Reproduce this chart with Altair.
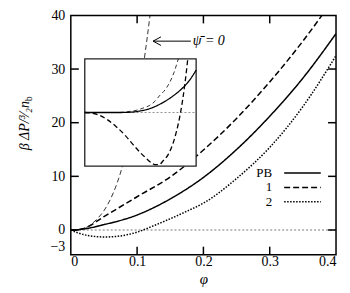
import altair as alt
import pandas as pd

# ---- main panel data (phi, beta*dP / (3/2 n_b)) ----
phi_pb = [0, 0.01, 0.02, 0.05, 0.1, 0.15, 0.2, 0.25, 0.3, 0.35, 0.4]
p_pb = [0, 0.05, 0.2, 1.0, 2.8, 5.8, 9.8, 15.0, 21.2, 28.3, 36.6]

phi_1 = [0, 0.01, 0.02, 0.05, 0.1, 0.15, 0.2, 0.25, 0.3, 0.35, 0.4]
p_1 = [0, 0.05, 0.3, 2.5, 6.2, 9.9, 14.9, 20.8, 27.6, 35.2, 43.7]

phi_2 = [0, 0.01, 0.025, 0.05, 0.075, 0.1, 0.125, 0.15, 0.175, 0.2, 0.25, 0.3, 0.35, 0.4]
p_2 = [0, -0.5, -1.0, -1.3, -1.1, -0.4, 0.8, 2.1, 3.5, 5.0, 9.6, 15.4, 23.0, 32.5]

phi_psi0 = [0, 0.01, 0.02, 0.03, 0.04, 0.05, 0.06, 0.07, 0.08, 0.09, 0.1, 0.11, 0.12]
p_psi0 = [0, 0.05, 0.3, 1.0, 2.1, 3.6, 5.8, 8.8, 12.8, 17.8, 23.8, 31.2, 40.5]

x_ticks = [0, 0.1, 0.2, 0.3, 0.4]
y_ticks = [-3, 0, 10, 20, 30, 40]
inner_x_ticks = [0.1, 0.2, 0.3]
inner_y_ticks = [0, 10, 20, 30]

# ---- inset data (arbitrary units) ----
u_pb = [0, 0.3, 0.4, 0.5, 0.58, 0.66, 0.73, 0.8, 0.88, 0.94, 1.0]
v_pb = [0, 0, 0.005, 0.03, 0.07, 0.14, 0.22, 0.32, 0.46, 0.6, 0.79]
u_psi = [0, 0.3, 0.4, 0.46, 0.52, 0.58, 0.63, 0.67, 0.72, 0.76, 0.8, 0.84]
v_psi = [0, 0, 0.02, 0.04, 0.08, 0.13, 0.21, 0.31, 0.42, 0.55, 0.74, 1.0]
u_1 = [0, 0.06, 0.13, 0.2, 0.28, 0.36, 0.43, 0.5, 0.55, 0.6, 0.63, 0.67, 0.7,
       0.75, 0.79, 0.82, 0.85, 0.88, 0.9, 0.925]
v_1 = [0, -0.01, -0.05, -0.13, -0.26, -0.42, -0.59, -0.75, -0.85, -0.94, -0.97,
       -0.97, -0.91, -0.78, -0.59, -0.38, -0.11, 0.25, 0.55, 1.0]

legend_labels = ["PB", "1", "2"]

FONT = "Liberation Serif"
W, H = 266, 240

xs = alt.Scale(domain=[0, 0.4], nice=False, zero=False)
ys = alt.Scale(domain=[-4.6, 40], nice=False, zero=False)
xaxis = alt.Axis(values=x_ticks, ticks=False, domain=False, grid=False,
                 labelFont=FONT, labelFontSize=14, labelColor="black",
                 labelPadding=0,
                 labelExpr="datum.value == 0 ? '0' : format(datum.value, '.1f')",
                 title="φ", titleFont=FONT, titleFontStyle="italic",
                 titleFontWeight="normal", titleColor="black",
                 titleFontSize=15, titlePadding=3)
yaxis = alt.Axis(values=y_ticks, ticks=False, domain=False, grid=False,
                 labelFont=FONT, labelFontSize=14, labelColor="black",
                 labelPadding=6, title=None)
X = alt.X("phi:Q", scale=xs, axis=xaxis)
Y = alt.Y("p:Q", scale=ys, axis=yaxis)


def curve(phis, ps, dash, width, color="black"):
    df = pd.DataFrame({"phi": phis, "p": ps})
    m = alt.Chart(df).mark_line(color=color, strokeWidth=width, strokeDash=dash,
                                interpolate="monotone", clip=True)
    return m.encode(x=X, y=Y)


base_df = pd.DataFrame({"phi": [0, 0.4], "p": [0, 0]})
baseline = alt.Chart(base_df).mark_line(color="#555", strokeWidth=0.8,
                                        strokeDash=[2, 2]).encode(x=X, y=Y)

l_psi0 = curve(phi_psi0, p_psi0, [5, 3], 0.8)
l_pb = curve(phi_pb, p_pb, [1, 0], 1.5)
l_1 = curve(phi_1, p_1, [6, 3], 1.5)
l_2 = curve(phi_2, p_2, [1.5, 1.5], 1.5)

# inward ticks
tx = pd.DataFrame({"phi": inner_x_ticks})
ty = pd.DataFrame({"p": inner_y_ticks})
tick_b = alt.Chart(tx).mark_rule(color="black", strokeWidth=1.5).encode(
    x=X, y=alt.value(H), y2=alt.value(H - 8))
tick_t = alt.Chart(tx).mark_rule(color="black", strokeWidth=1.5).encode(
    x=X, y=alt.value(0), y2=alt.value(8))
tick_l = alt.Chart(ty).mark_rule(color="black", strokeWidth=1.5).encode(
    y=Y, x=alt.value(0), x2=alt.value(8))
tick_r = alt.Chart(ty).mark_rule(color="black", strokeWidth=1.5).encode(
    y=Y, x=alt.value(W), x2=alt.value(W - 8))

# annotation arrow for psi-bar = 0
arr_df = pd.DataFrame({"phi": [0.124, 0.124, 0.124], "p": [35.2, 35.2, 35.2],
                       "phi2": [0.181, 0.136, 0.136], "p2": [35.2, 36.0, 34.4]})
arrow = alt.Chart(arr_df).mark_rule(color="black", strokeWidth=1).encode(
    x=X, y=Y, x2="phi2:Q", y2="p2:Q")
ann_df = pd.DataFrame({"phi": [0.184], "p": [35.2], "t": ["ψ̄ = 0"]})
ann = alt.Chart(ann_df).mark_text(align="left", baseline="middle", font=FONT,
                                  fontSize=14, fontStyle="italic").encode(
    x=X, y=Y, text="t:N")

# legend (label left, sample right)
leg_y = [158.0, 172.5, 187.0]
leg_text = []
leg_lines = []
dashes = [[1, 0], [6, 3], [1.5, 1.5]]
for lab, yy, d in zip(legend_labels, leg_y, dashes):
    leg_text.append(alt.Chart(pd.DataFrame({"t": [lab]})).mark_text(
        align="right", baseline="middle", font=FONT, fontSize=13).encode(
        text="t:N", x=alt.value(202), y=alt.value(yy)))
    leg_lines.append(alt.Chart(pd.DataFrame({"t": [lab]})).mark_rule(
        color="black", strokeWidth=1.5, strokeDash=d).encode(
        x=alt.value(214), x2=alt.value(250.7), y=alt.value(yy)))

# y axis title
ytitle_main = alt.Chart(pd.DataFrame({"t": ["β ΔP/³⁄₂n"]})).mark_text(
    align="right", baseline="middle", angle=270, font=FONT, fontSize=14,
    fontStyle="italic").encode(text="t:N", x=alt.value(-46), y=alt.value(86))
ytitle_sub = alt.Chart(pd.DataFrame({"t": ["b"]})).mark_text(
    align="left", baseline="middle", angle=270, font=FONT, fontSize=10,
    dy=4).encode(text="t:N", x=alt.value(-46), y=alt.value(86))

main = alt.layer(baseline, l_psi0, l_pb, l_1, l_2, tick_b, tick_t, tick_l, tick_r,
                 arrow, ann, *leg_text, *leg_lines, ytitle_main, ytitle_sub)

# ---- inset ----
us = alt.Scale(domain=[0, 1], range=[14, 125.7], nice=False, zero=False)
vs = alt.Scale(domain=[-1, 1], range=[151.2, 43.6], nice=False, zero=False)
U = alt.X("u:Q", scale=us, axis=None)
V = alt.Y("v:Q", scale=vs, axis=None)

box = alt.Chart(pd.DataFrame({"u": [0], "v": [-1], "u2": [1], "v2": [1]})).mark_rect(
    fill="white", stroke="#222", strokeWidth=1.3).encode(x=U, y=V, x2="u2:Q", y2="v2:Q")


def icurve(us_, vs_, dash, width, color="black"):
    return alt.Chart(pd.DataFrame({"u": us_, "v": vs_})).mark_line(
        color=color, strokeWidth=width, strokeDash=dash, interpolate="monotone",
        clip=False).encode(x=U, y=V)


ibase = icurve([0, 1], [0, 0], [2, 2], 0.8, "#777")
i_psi = icurve(u_psi, v_psi, [4, 3], 0.8)
i_pb = icurve(u_pb, v_pb, [1, 0], 1.3)
i_1 = icurve(u_1, v_1, [5, 3], 1.3)

inset = alt.layer(box, ibase, i_psi, i_pb, i_1)

chart = alt.layer(main, inset).resolve_scale(
    x="independent", y="independent").properties(
    width=W, height=H,
    padding={"left": 63, "top": 7, "right": 6, "bottom": 32},
    autosize=alt.AutoSizeParams(type="none"),
).configure_view(stroke="black", strokeWidth=1.5)

chart.save("out.html", embed_options={"renderer": "svg", "actions": False})
